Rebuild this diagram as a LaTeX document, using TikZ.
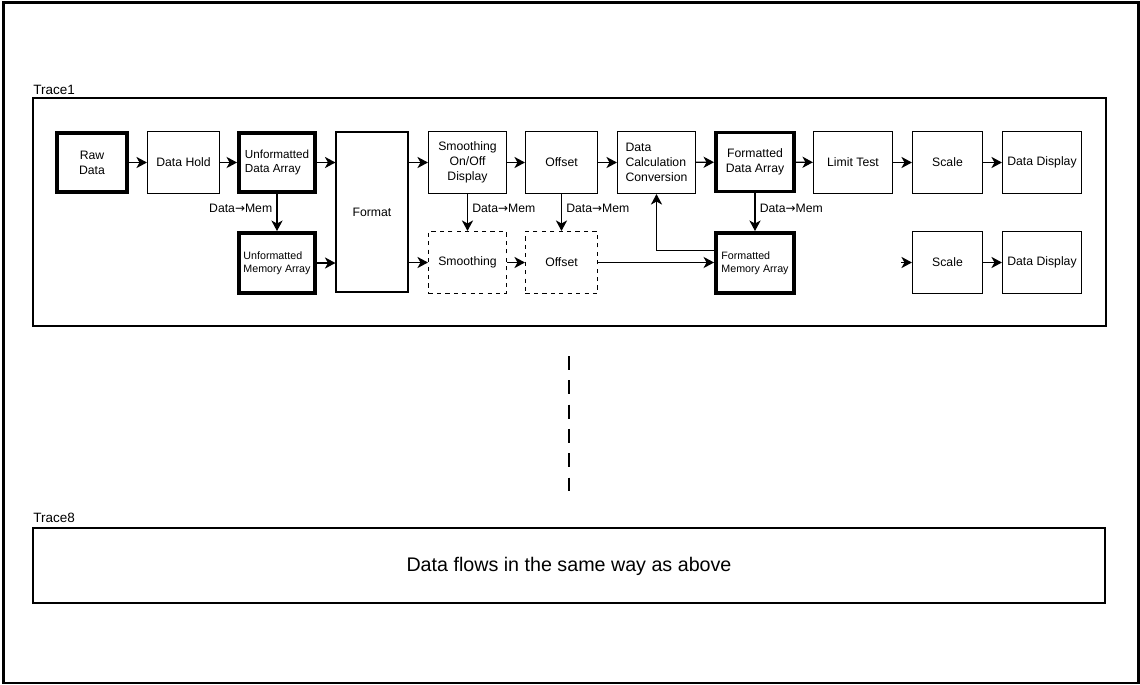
\documentclass[tikz,border=0pt]{standalone}
\usepackage{fontspec}
\setmainfont{Liberation Sans}
\newfontfamily\arrowfont{DejaVu Sans}
\usetikzlibrary{arrows.meta}

\newcommand{\datamem}{Data{\arrowfont\fontsize{8.5}{9}\selectfont →}Mem}

\begin{document}
\begin{tikzpicture}[x=0.025cm, y=-0.025cm,
    blk/.style={draw, line width=0.8pt, inner sep=1pt, align=center,
        minimum height=1.55cm, font=\fontsize{8.7}{10.5}\selectfont},
    bold/.style={blk, line width=2.8pt, minimum height=1.475cm},
    membox/.style={bold, minimum height=1.5cm, align=left, font=\fontsize{7.6}{9.5}\selectfont},
    ghost/.style={blk, dashed},
    flow/.style={-{Stealth[length=7.5pt, width=8pt, inset=2.2pt]}, line width=0.8pt},
    lbl/.style={font=\fontsize{8.7}{10.5}\selectfont, inner sep=3pt}]
    \useasboundingbox (0, 0) rectangle (1140, 685);

    % Frame
    \draw[line width=1.8pt] (3.3, 2.5) rectangle (1138.5, 683);

    % Trace1
    \node[anchor=south west, inner sep=0pt, font=\fontsize{9.6}{11}\selectfont] (t1) at (33, 95) {Trace1};
    \draw[line width=0.8pt] (33, 98) rectangle (1106, 326);

    \node[bold, minimum width=1.75cm] (raw) at (92, 162.5) {Raw\\Data};
    \node[blk, minimum width=1.8cm] (hold) at (183.5, 162.5) {Data Hold};
    \node[bold, minimum width=1.9cm, align=left, font=\fontsize{8.3}{10}\selectfont] (uda) at (277, 162.5) {Unformatted\\Data Array};
    \node[membox, minimum width=1.9cm] (uma) at (277, 263) {Unformatted\\Memory Array};
    \node[blk, minimum width=1.8cm, minimum height=4.0cm] (fmt) at (372, 212) {Format};
    \node[blk, minimum width=1.95cm] (sod) at (467.5, 162.5) {Smoothing\\On/Off\\Display};
    \node[ghost, minimum width=1.95cm] (smo) at (467.5, 262.5) {Smoothing};
    \node[blk, minimum width=1.8cm] (off) at (561.5, 162.5) {Offset};
    \node[ghost, minimum width=1.8cm] (offm) at (561.5, 262.5) {Offset};
    \node[blk, minimum width=1.95cm, align=left] (dcc) at (656.5, 162.5) {Data\\Calculation\\Conversion};
    \node[bold, minimum width=1.95cm] (fda) at (755, 162) {Formatted\\Data Array};
    \node[membox, minimum width=1.95cm] (fma) at (755, 263) {Formatted\\Memory Array};
    \node[blk, minimum width=1.975cm] (lim) at (853, 162.5) {Limit Test};
    \node[blk, minimum width=1.75cm] (scl) at (947.5, 162.5) {Scale};
    \node[blk, minimum width=1.975cm] (disp) at (1042, 162.5) {Data Display};
    \node[blk, minimum width=1.75cm] (scl2) at (947.5, 262.5) {Scale};
    \node[blk, minimum width=1.975cm] (disp2) at (1042, 262.5) {Data Display};

    % Flow, upper row
    \draw[flow] (raw) -- (hold);
    \draw[flow] (hold) -- (uda);
    \draw[flow] (uda.east) -- (uda.east -| fmt.west);
    \draw[flow] (fmt.east |- sod.west) -- (sod.west);
    \draw[flow] (sod) -- (off);
    \draw[flow] (off) -- (dcc);
    \draw[flow] (dcc) -- (fda);
    \draw[flow] (fda) -- (lim);
    \draw[flow] (lim) -- (scl);
    \draw[flow] (scl) -- (disp);

    % Flow, memory row
    \draw[flow] (uda) -- node[lbl, pos=0.4, left] {\datamem} (uma);
    \draw[flow] (uma.east) -- (uma.east -| fmt.west);
    \draw[flow] (fmt.east |- smo.west) -- (smo.west);
    \draw[flow] (sod) -- node[lbl, pos=0.4, right] {\datamem} (smo);
    \draw[flow] (off) -- node[lbl, pos=0.4, right] {\datamem} (offm);
    \draw[flow] (fda) -- node[lbl, pos=0.4, right] {\datamem} (fma);
    \draw[flow] (smo) -- (offm);
    \draw[flow] (offm.east) -- (offm.east -| fma.west);
    \draw[flow] ([yshift=9pt]fma.west) -| (dcc.south);
    \coordinate (stub) at (901, 262.5);
    \draw[flow] (stub) -- (scl2.west);
    \draw[flow] (scl2) -- (disp2);

    % Continuation
    \draw[line width=2.1pt, dash pattern=on 10pt off 7.3pt] (569, 356) -- (569, 491);

    % Trace8
    \node[anchor=south west, inner sep=0pt, font=\fontsize{9.6}{11}\selectfont] (t8) at (33, 523) {Trace8};
    \draw[line width=1pt] (33, 528) rectangle (1105, 603);
    \node[font=\fontsize{14}{16}\selectfont] (same) at (569, 566) {Data flows in the same way as above};
\end{tikzpicture}
\end{document}
